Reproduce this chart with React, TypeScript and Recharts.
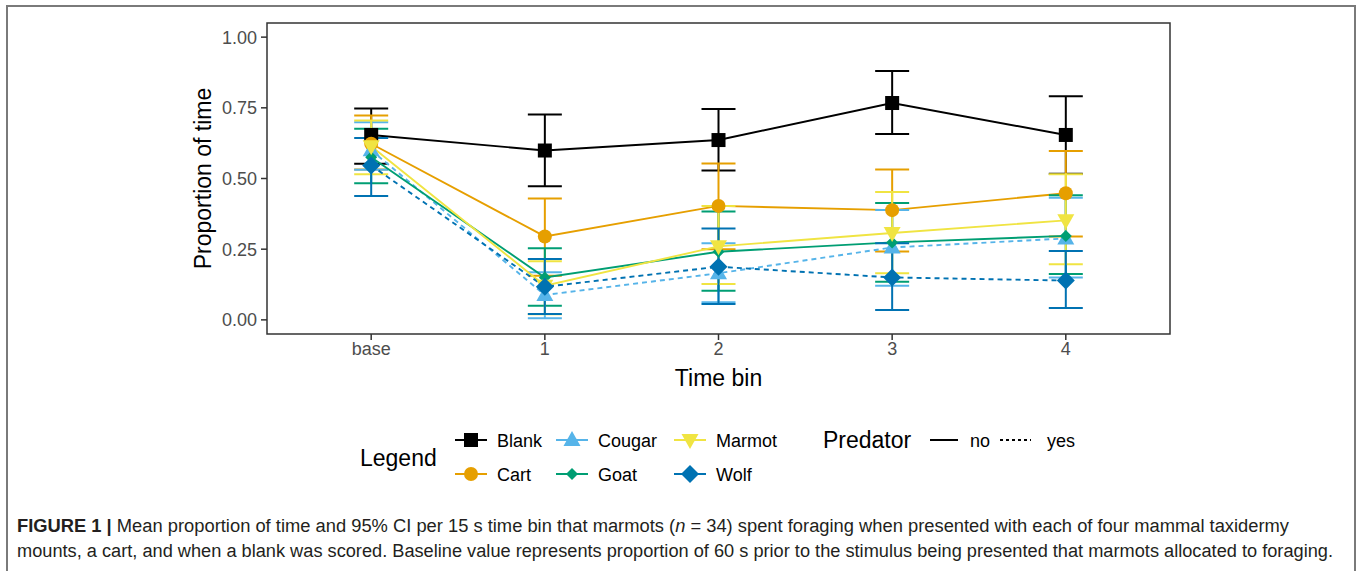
import React from 'react';
import { LineChart, Line, XAxis, YAxis, ErrorBar, ReferenceArea } from 'recharts';

const timeBins = ['base', '1', '2', '3', '4'];
const yTicks = [0, 0.25, 0.5, 0.75, 1];

const blankMean = [0.654, 0.599, 0.636, 0.767, 0.654];
const blankLow = [0.552, 0.473, 0.528, 0.657, 0.517];
const blankHigh = [0.748, 0.726, 0.746, 0.88, 0.791];

const cartMean = [0.623, 0.295, 0.403, 0.388, 0.448];
const cartLow = [0.532, 0.156, 0.25, 0.242, 0.295];
const cartHigh = [0.723, 0.429, 0.553, 0.532, 0.597];

const cougarMean = [0.6, 0.088, 0.165, 0.256, 0.288];
const cougarLow = [0.531, 0.006, 0.062, 0.121, 0.15];
const cougarHigh = [0.699, 0.168, 0.271, 0.389, 0.432];

const goatMean = [0.575, 0.15, 0.241, 0.274, 0.297];
const goatLow = [0.483, 0.05, 0.103, 0.135, 0.162];
const goatHigh = [0.676, 0.253, 0.383, 0.413, 0.441];

const marmotMean = [0.614, 0.121, 0.26, 0.307, 0.352];
const marmotLow = [0.515, 0.02, 0.127, 0.165, 0.197];
const marmotHigh = [0.705, 0.207, 0.403, 0.452, 0.515];

const wolfMean = [0.546, 0.117, 0.188, 0.15, 0.139];
const wolfLow = [0.438, 0.021, 0.056, 0.035, 0.042];
const wolfHigh = [0.643, 0.215, 0.323, 0.271, 0.244];

type Shape = 'square' | 'circle' | 'triUp' | 'smallDiamond' | 'triDown' | 'diamond';

const series: { key: string; label: string; color: string; shape: Shape; dashed: boolean; mean: number[]; low: number[]; high: number[] }[] = [
  { key: 'blank', label: 'Blank', color: '#000000', shape: 'square', dashed: false, mean: blankMean, low: blankLow, high: blankHigh },
  { key: 'cart', label: 'Cart', color: '#E69F00', shape: 'circle', dashed: false, mean: cartMean, low: cartLow, high: cartHigh },
  { key: 'cougar', label: 'Cougar', color: '#56B4E9', shape: 'triUp', dashed: true, mean: cougarMean, low: cougarLow, high: cougarHigh },
  { key: 'goat', label: 'Goat', color: '#009E73', shape: 'smallDiamond', dashed: false, mean: goatMean, low: goatLow, high: goatHigh },
  { key: 'marmot', label: 'Marmot', color: '#F0E442', shape: 'triDown', dashed: false, mean: marmotMean, low: marmotLow, high: marmotHigh },
  { key: 'wolf', label: 'Wolf', color: '#0072B2', shape: 'diamond', dashed: true, mean: wolfMean, low: wolfLow, high: wolfHigh },
];

// one row per time bin, error offsets as [below, above]
const data = timeBins.map((_, i) => {
  const row: Record<string, any> = { x: i };
  series.forEach((s) => {
    row[s.key] = s.mean[i];
    row[s.key + 'Err'] = [s.mean[i] - s.low[i], s.high[i] - s.mean[i]];
  });
  return row;
});

function marker(shape: Shape, cx: number, cy: number, color: string, key?: string) {
  switch (shape) {
    case 'square':
      return <rect key={key} x={cx - 7} y={cy - 7} width={14} height={14} fill={color} />;
    case 'circle':
      return <circle key={key} cx={cx} cy={cy} r={7} fill={color} />;
    case 'triUp':
      return <polygon key={key} points={`${cx},${cy - 9} ${cx - 8.5},${cy + 6} ${cx + 8.5},${cy + 6}`} fill={color} />;
    case 'triDown':
      return <polygon key={key} points={`${cx},${cy + 9} ${cx - 8.5},${cy - 6} ${cx + 8.5},${cy - 6}`} fill={color} />;
    case 'smallDiamond':
      return <polygon key={key} points={`${cx},${cy - 6} ${cx + 6},${cy} ${cx},${cy + 6} ${cx - 6},${cy}`} fill={color} />;
    case 'diamond':
      return <polygon key={key} points={`${cx},${cy - 9} ${cx + 9},${cy} ${cx},${cy + 9} ${cx - 9},${cy}`} fill={color} />;
  }
}

const FONT = '"Liberation Sans", Arial, sans-serif';

function LegendBox() {
  const cols = [455, 556, 674];
  const rows = [440, 474];
  return (
    <svg width={1360} height={120} style={{ position: 'absolute', left: 0, top: 400 }} fontFamily={FONT}>
      <g transform="translate(0,-400)">
        <text x={360} y={466} fontSize={23} fill="#000">Legend</text>
        {series.map((s, i) => {
          const kx = cols[Math.floor(i / 2)];
          const ky = rows[i % 2];
          return (
            <g key={s.key}>
              <line x1={kx} x2={kx + 32} y1={ky} y2={ky} stroke={s.color} strokeWidth={2} />
              {marker(s.shape, kx + 16, ky, s.color)}
              <text x={kx + 42} y={ky + 6.5} fontSize={18} fill="#000">{s.label}</text>
            </g>
          );
        })}
        <text x={823} y={448} fontSize={23} fill="#000">Predator</text>
        <line x1={930} x2={958} y1={440} y2={440} stroke="#000" strokeWidth={2} />
        <text x={970} y={446.5} fontSize={18} fill="#000">no</text>
        <line x1={1000} x2={1031} y1={440} y2={440} stroke="#000" strokeWidth={2} strokeDasharray="3 3" />
        <text x={1047} y={446.5} fontSize={18} fill="#000">yes</text>
      </g>
    </svg>
  );
}

function Caption() {
  return (
    <svg width={1360} height={60} style={{ position: 'absolute', left: 0, top: 505 }} fontFamily={FONT}>
      <text x={17} y={27} fontSize={18} fill="#231f20" textLength={1272} lengthAdjust="spacingAndGlyphs">
        <tspan fontWeight="bold">FIGURE 1 | </tspan>
        <tspan>Mean proportion of time and 95% CI per 15 s time bin that marmots (</tspan>
        <tspan fontStyle="italic">n</tspan>
        <tspan> = 34) spent foraging when presented with each of four mammal taxidermy</tspan>
      </text>
      <text x={17} y={52} fontSize={18} fill="#231f20" textLength={1316} lengthAdjust="spacingAndGlyphs">
        mounts, a cart, and when a blank was scored. Baseline value represents proportion of 60 s prior to the stimulus being presented that marmots allocated to foraging.
      </text>
    </svg>
  );
}

export default function App() {
  return (
    <div style={{ position: 'absolute', left: 0, top: 0, width: 1360, height: 571, background: '#fff', overflow: 'hidden', fontFamily: FONT }}>
      <div style={{ position: 'absolute', left: 6, top: 5, width: 1346, height: 620, border: '2px solid #7a7a7a' }} />
      <div style={{ position: 'absolute', left: 0, top: 0 }}>
        <LineChart width={1360} height={400} data={data} margin={{ top: 23, right: 190, bottom: 0, left: 180 }}>
          <XAxis
            type="number"
            dataKey="x"
            domain={[-0.6, 4.6]}
            ticks={[0, 1, 2, 3, 4]}
            tickFormatter={(v) => timeBins[v]}
            allowDataOverflow
            height={66}
            axisLine={false}
            tickSize={6}
            tickLine={{ stroke: '#333', strokeWidth: 1.5 }}
            tick={{ fill: '#4D4D4D', fontSize: 18, fontFamily: FONT }}
            label={{ value: 'Time bin', position: 'insideBottom', offset: 14, fill: '#000', fontSize: 23, fontFamily: FONT }}
          />
          <YAxis
            type="number"
            domain={[-0.05, 1.05]}
            ticks={yTicks}
            tickFormatter={(v) => v.toFixed(2)}
            allowDataOverflow
            width={87}
            axisLine={false}
            tickSize={6}
            tickMargin={4}
            tickLine={{ stroke: '#333', strokeWidth: 1.5 }}
            tick={{ fill: '#4D4D4D', fontSize: 18, fontFamily: FONT }}
            label={{ value: 'Proportion of time', angle: -90, position: 'insideLeft', offset: 23, fill: '#000', fontSize: 23, fontFamily: FONT, style: { textAnchor: 'middle' } }}
          />
          {series.map((s) => (
            <Line
              key={s.key}
              dataKey={s.key}
              stroke={s.color}
              strokeWidth={1.9}
              strokeDasharray={s.dashed ? '5 4' : undefined}
              isAnimationActive={false}
              activeDot={false}
              dot={(p: any) => marker(s.shape, p.cx, p.cy, s.color, `${s.key}-${p.index}`)}
            >
              <ErrorBar dataKey={s.key + 'Err'} width={17} stroke={s.color} strokeWidth={2} direction="y" isAnimationActive={false} />
            </Line>
          ))}
          <ReferenceArea x1={-0.6} x2={4.6} y1={-0.05} y2={1.05} fill="none" stroke="#333" strokeWidth={1.5} ifOverflow="visible" />
        </LineChart>
      </div>
      <LegendBox />
      <Caption />
    </div>
  );
}
